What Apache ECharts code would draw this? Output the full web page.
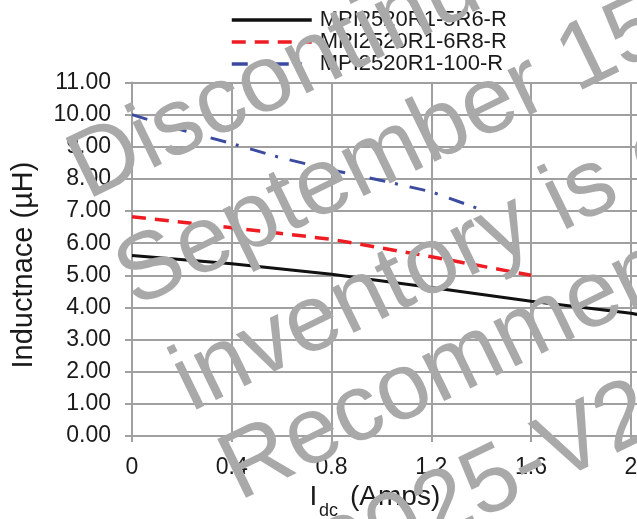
<!DOCTYPE html>
<html>
<head>
<meta charset="utf-8">
<script src="https://cdn.jsdelivr.net/npm/echarts@6/dist/echarts.min.js"></script>
<style>
html,body{margin:0;padding:0;background:#fff;}
#c{width:637px;height:519px;}
</style>
</head>
<body>
<div id="c"></div>
<script>
// ---- data ----
const seriesNames = ['MPI2520R1-5R6-R', 'MPI2520R1-6R8-R', 'MPI2520R1-100-R'];
const black_x = [0, 0.4, 0.8, 1.2, 1.6, 2.0, 2.1];
const black_y = [5.62, 5.36, 5.03, 4.62, 4.19, 3.82, 3.68];
const red_x = [0, 0.4, 0.8, 1.2, 1.6];
const red_y = [6.82, 6.48, 6.12, 5.58, 5.0];
const blue_x = [0, 0.2, 0.4, 0.6, 0.8, 1.0, 1.2, 1.38];
const blue_y = [10.0, 9.52, 9.1, 8.65, 8.28, 7.95, 7.6, 7.1];
const xTickLabels = ['0', '0.4', '0.8', '1.2', '1.6', '2', '2.4'];
const yTitle = 'Inductnace (µH)';
const xTitleMain = 'I', xTitleSub = 'dc', xTitleRest = '(Amps)';
const watermarkLines = ['Discontinued', 'September 15, 2025', 'inventory is depleted', 'Recommended', '2025-V2'];

const FONT = '"Liberation Sans", Arial, Helvetica, sans-serif';
const TXT = '#1a1a1a';
const GRID = '#a0a0a0';

function zip(xs, ys) { return xs.map((x, i) => [x, ys[i]]); }

// watermark placement (along-baseline offset s0, perpendicular offset d)
const wmPos = [[-9.5, 225], [-14, 342.5], [-9, 461], [-5, 562], [45, 684]];
const th = 26 * Math.PI / 180, fs = 95;
const c = Math.cos(th), sn = Math.sin(th);
const wm = watermarkLines.map((t, i) => {
  const s0 = wmPos[i][0], d = wmPos[i][1];
  const bx = s0 * c + d * sn, by = -s0 * sn + d * c;
  const k = 0.3465 * fs;
  return {
    type: 'text', x: bx - k * sn, y: by - k * c, rotation: th, z: 100, silent: true,
    style: { text: t, x: 0, y: 0, align: 'left', verticalAlign: 'middle',
      font: fs + 'px ' + FONT, fill: '#a9a9a9' }
  };
});

const chart = echarts.init(document.getElementById('c'), null, { renderer: 'canvas' });
chart.setOption({
  animation: false,
  backgroundColor: '#ffffff',
  textStyle: { fontFamily: FONT },
  grid: { left: 132, top: 82.5, right: -93.6, bottom: 83, containLabel: false, outerBoundsMode: 'none' },
  legend: {
    orient: 'vertical', left: 230, top: 9, padding: 0,
    itemWidth: 80, itemHeight: 14, itemGap: 0,
    itemStyle: { opacity: 0 },
    lineStyle: { width: 3.5 },
    textStyle: { fontSize: 22, lineHeight: 21.5, color: TXT, fontFamily: FONT, padding: [0, 0, 0, 3] },
    data: seriesNames
  },
  xAxis: {
    type: 'value', min: 0, max: 2.4, interval: 0.4,
    axisLine: { show: true, lineStyle: { color: GRID, width: 2 } },
    axisTick: { show: true, length: 6, lineStyle: { color: GRID, width: 2 } },
    splitLine: { show: true, lineStyle: { color: GRID, width: 2 } },
    axisLabel: {
      fontSize: 23, color: TXT, margin: 20, fontFamily: FONT, hideOverlap: false,
      formatter: v => xTickLabels[Math.round(v / 0.4)]
    }
  },
  yAxis: {
    type: 'value', min: 0, max: 11, interval: 1,
    axisLine: { show: true, lineStyle: { color: GRID, width: 2 } },
    axisTick: { show: true, length: 7, lineStyle: { color: GRID, width: 2 } },
    splitLine: { show: true, lineStyle: { color: GRID, width: 2 } },
    axisLabel: { fontSize: 23, color: TXT, margin: 21, fontFamily: FONT, formatter: v => v.toFixed(2) }
  },
  series: [
    { name: seriesNames[0], type: 'line', symbol: 'none', data: zip(black_x, black_y),
      lineStyle: { color: '#111111', width: 3 }, itemStyle: { color: '#111111' } },
    { name: seriesNames[1], type: 'line', symbol: 'none', data: zip(red_x, red_y),
      lineStyle: { color: '#ee1d24', width: 3.5, type: [14, 9] }, itemStyle: { color: '#ee1d24' } },
    { name: seriesNames[2], type: 'line', symbol: 'none', data: zip(blue_x, blue_y),
      lineStyle: { color: '#3b4ba0', width: 3, type: [16, 10, 3, 12] }, itemStyle: { color: '#3b4ba0' } }
  ],
  graphic: [
    { type: 'text', x: 24, y: 265, rotation: Math.PI / 2, z: 50,
      style: { text: yTitle, x: 0, y: 0, align: 'center', verticalAlign: 'middle', font: '29px ' + FONT, fill: TXT } },
    { type: 'text', x: 309.5, y: 497, z: 50,
      style: { text: xTitleMain, x: 0, y: 0, align: 'left', verticalAlign: 'middle', font: '28px ' + FONT, fill: TXT } },
    { type: 'text', x: 319, y: 510.8, z: 50,
      style: { text: xTitleSub, x: 0, y: 0, align: 'left', verticalAlign: 'middle', font: '18px ' + FONT, fill: TXT } },
    { type: 'text', x: 350, y: 497, z: 50,
      style: { text: xTitleRest, x: 0, y: 0, align: 'left', verticalAlign: 'middle', font: '28px ' + FONT, fill: TXT } }
  ].concat(wm)
});
</script>
</body>
</html>
